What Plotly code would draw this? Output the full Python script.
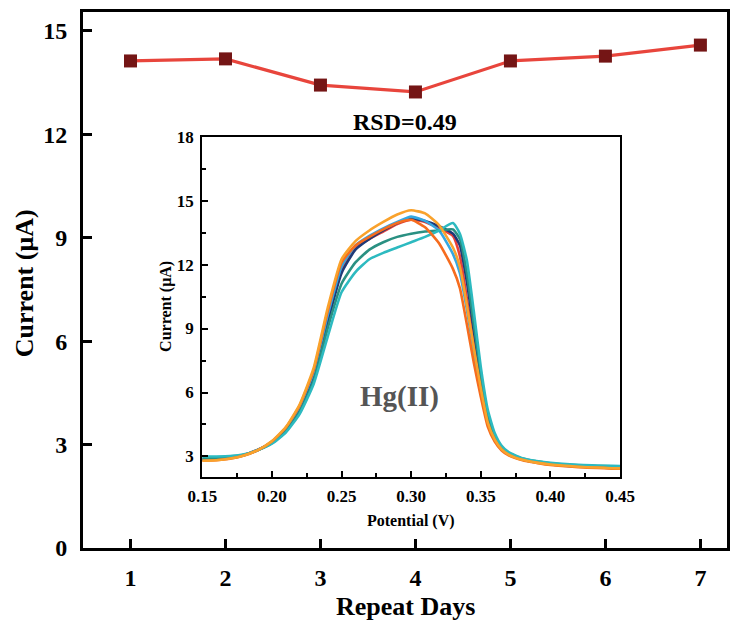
import plotly.graph_objects as go

# ---------------- data ----------------
days = [1, 2, 3, 4, 5, 6, 7]
peak_current = [14.13, 14.19, 13.43, 13.23, 14.13, 14.27, 14.59]

potential = [0.15, 0.16, 0.17, 0.18, 0.19, 0.20, 0.21, 0.22, 0.23, 0.24, 0.25,
             0.26, 0.27, 0.28, 0.29, 0.30, 0.31, 0.32, 0.33, 0.335, 0.34, 0.345,
             0.35, 0.355, 0.36, 0.365, 0.37, 0.38, 0.39, 0.40, 0.42, 0.45]

cur_red = [2.85, 2.87, 2.93, 3.07, 3.32, 3.68, 4.30, 5.30, 6.85, 9.50, 11.80,
           12.80, 13.20, 13.55, 13.90, 14.10, 14.00, 13.70, 13.35, 12.40, 10.40, 8.40,
           6.40, 4.70, 3.85, 3.38, 3.12, 2.86, 2.73, 2.64, 2.54, 2.47]
cur_navy = [2.85, 2.87, 2.93, 3.06, 3.30, 3.66, 4.25, 5.20, 6.75, 9.30, 11.60,
            12.70, 13.20, 13.60, 13.95, 14.15, 14.05, 13.80, 13.45, 12.90, 11.20, 8.90,
            6.70, 4.90, 3.95, 3.42, 3.15, 2.87, 2.74, 2.65, 2.55, 2.48]
cur_blue = [2.85, 2.87, 2.93, 3.07, 3.32, 3.69, 4.32, 5.35, 6.95, 9.60, 11.90,
            12.90, 13.35, 13.70, 14.00, 14.25, 14.05, 13.60, 12.50, 11.60, 9.90, 7.90,
            6.10, 4.55, 3.78, 3.34, 3.10, 2.85, 2.72, 2.63, 2.53, 2.46]
cur_teal_dark = [2.92, 2.93, 2.97, 3.08, 3.30, 3.62, 4.18, 5.10, 6.55, 9.00, 11.10,
                 12.10, 12.70, 13.05, 13.30, 13.45, 13.55, 13.60, 13.65, 13.20, 11.60, 9.20,
                 6.90, 5.00, 4.00, 3.45, 3.17, 2.90, 2.77, 2.68, 2.58, 2.52]
cur_teal = [3.00, 3.00, 3.02, 3.10, 3.30, 3.60, 4.12, 5.00, 6.40, 8.60, 10.70,
            11.65, 12.25, 12.55, 12.80, 13.05, 13.30, 13.60, 13.95, 13.45, 12.20, 9.80,
            7.20, 5.20, 4.10, 3.50, 3.20, 2.92, 2.79, 2.70, 2.61, 2.55]
cur_orange = [2.80, 2.82, 2.89, 3.04, 3.30, 3.70, 4.35, 5.40, 7.05, 9.80, 12.10,
              12.90, 13.30, 13.65, 13.95, 14.10, 13.75, 13.00, 11.80, 10.90, 9.20, 7.40,
              5.80, 4.40, 3.70, 3.28, 3.05, 2.82, 2.70, 2.60, 2.50, 2.42]
cur_amber = [2.80, 2.82, 2.90, 3.05, 3.30, 3.72, 4.38, 5.45, 7.15, 9.95, 12.25,
             13.10, 13.60, 14.00, 14.35, 14.55, 14.40, 13.85, 12.80, 11.90, 10.10, 8.10,
             6.20, 4.60, 3.80, 3.33, 3.09, 2.84, 2.71, 2.62, 2.52, 2.44]

inset_series = [
    ("Day 1", cur_red, "#E8403A"),
    ("Day 2", cur_navy, "#1E3A78"),
    ("Day 3", cur_blue, "#35A7E0"),
    ("Day 4", cur_teal_dark, "#2A9082"),
    ("Day 5", cur_teal, "#2DBAC0"),
    ("Day 6", cur_orange, "#F66C1E"),
    ("Day 7", cur_amber, "#F9A22C"),
]

main_xticks = [1, 2, 3, 4, 5, 6, 7]
main_yticks = [0, 3, 6, 9, 12, 15]
inset_xticks = [0.15, 0.20, 0.25, 0.30, 0.35, 0.40, 0.45]
inset_xticklabels = ["0.15", "0.20", "0.25", "0.30", "0.35", "0.40", "0.45"]
inset_yticks = [3, 6, 9, 12, 15, 18]

FONT = "Liberation Serif"

fig = go.Figure()

# main series
fig.add_trace(go.Scatter(
    x=days, y=peak_current, mode="lines+markers",
    line=dict(color="#E8453C", width=3.2),
    marker=dict(symbol="square", size=13, color="#741515"),
    xaxis="x", yaxis="y", showlegend=False,
))

# inset series
for name, ys, col in inset_series:
    fig.add_trace(go.Scatter(
        x=potential, y=ys, mode="lines", name=name,
        line=dict(color=col, width=2.6, shape="spline", smoothing=0.5),
        xaxis="x2", yaxis="y2", showlegend=False,
    ))

tickfont_main = dict(family=FONT, size=24, color="black", weight="bold")
tickfont_inset = dict(family=FONT, size=17, color="black", weight="bold")

fig.update_layout(
    width=739, height=626,
    margin=dict(l=83, r=12, t=12, b=78, autoexpand=False),
    paper_bgcolor="white", plot_bgcolor="white",
    showlegend=False,
    xaxis=dict(
        domain=[0, 1], range=[0.5, 7.28], automargin=False,
        tickvals=main_xticks, ticks="inside", ticklen=9, tickwidth=2.5,
        tickcolor="black", showline=True, linewidth=2.8, linecolor="black",
        mirror=True, showgrid=False, zeroline=False, tickfont=tickfont_main,
        ticklabelstandoff=6,
    ),
    yaxis=dict(
        domain=[0, 1], range=[0, 15.55], automargin=False,
        tickvals=main_yticks, ticks="inside", ticklen=9, tickwidth=2.5,
        tickcolor="black", showline=True, linewidth=2.8, linecolor="black",
        mirror=True, showgrid=False, zeroline=False, tickfont=tickfont_main,
        ticklabelstandoff=8,
    ),
    xaxis2=dict(
        domain=[0.1852, 0.8339], range=[0.15, 0.45], anchor="y2", automargin=False,
        tickvals=inset_xticks, ticktext=inset_xticklabels,
        ticks="inside", ticklen=6, tickwidth=2, tickcolor="black",
        minor=dict(dtick=0.025, tick0=0.15, ticks="inside", ticklen=3.5, tickwidth=1.8, tickcolor="black"),
        showline=True, linewidth=2.2, linecolor="black", mirror=True,
        showgrid=False, zeroline=False, tickfont=tickfont_inset,
        ticklabelstandoff=3,
    ),
    yaxis2=dict(
        domain=[0.133, 0.7674], range=[2.05, 18], anchor="x2", automargin=False,
        tickvals=inset_yticks, ticks="inside", ticklen=6, tickwidth=2, tickcolor="black",
        minor=dict(dtick=1.5, tick0=0, ticks="inside", ticklen=3.5, tickwidth=1.8, tickcolor="black"),
        showline=True, linewidth=2.2, linecolor="black", mirror=True,
        showgrid=False, zeroline=False, tickfont=tickfont_inset,
        ticklabelstandoff=3,
    ),
    annotations=[
        dict(text="Current (μA)", xref="paper", yref="paper", x=-0.0916, y=0.494,
             textangle=-90, showarrow=False, xanchor="center", yanchor="middle",
             font=dict(family=FONT, size=26, color="black", weight="bold")),
        dict(text="Repeat Days", xref="paper", yref="paper", x=0.5, y=-0.11,
             showarrow=False, xanchor="center", yanchor="middle",
             font=dict(family=FONT, size=26, color="black", weight="bold")),
        dict(text="RSD=0.49", xref="paper", yref="paper", x=0.5, y=0.795,
             showarrow=False, xanchor="center", yanchor="middle",
             font=dict(family=FONT, size=24, color="black", weight="bold")),
        dict(text="Potential (V)", xref="paper", yref="paper", x=0.509, y=0.05,
             showarrow=False, xanchor="center", yanchor="middle",
             font=dict(family=FONT, size=16, color="black", weight="bold")),
        dict(text="Current (μA)", xref="paper", yref="paper", x=0.129, y=0.45,
             textangle=-90, showarrow=False, xanchor="center", yanchor="middle",
             font=dict(family=FONT, size=16, color="black", weight="bold")),
        dict(text="Hg(II)", xref="paper", yref="paper", x=0.491, y=0.282,
             showarrow=False, xanchor="center", yanchor="middle",
             font=dict(family=FONT, size=29, color="#555555", weight="bold")),
    ],
)

fig.write_html("out.html")
